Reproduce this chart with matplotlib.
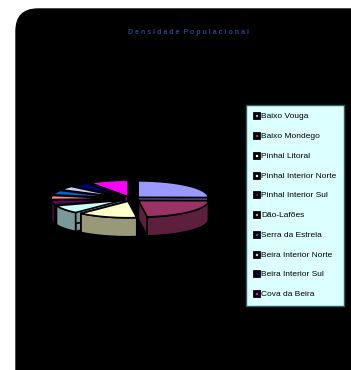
import numpy as np
import matplotlib
matplotlib.use("Agg")
import matplotlib.pyplot as plt
from matplotlib.patches import FancyBboxPatch, Polygon
from matplotlib.lines import Line2D
from matplotlib.colors import to_rgb

title = "Densidade Populacional"
regions = ["Baixo Vouga", "Baixo Mondego", "Pinhal Litoral", "Pinhal Interior Norte",
           "Pinhal Interior Sul", "Dão-Lafões", "Serra da Estrela",
           "Beira Interior Norte", "Beira Interior Sul", "Cova da Beira"]
values = [88, 80, 48, 28, 16, 14, 16, 14, 14, 32]
colors = ["#9999ff", "#993366", "#ffffcc", "#ccffff", "#660066",
          "#ff8080", "#0066cc", "#ccccff", "#000080", "#ff00ff"]

W, H = 351, 370


def darker(c, f=0.6):
    r, g, b = to_rgb(c)
    return (r * f, g * f, b * f)


def draw_pie3d(ax, vals, cols, cx, cy, a, b, depth, explode):
    frac = np.array(vals, dtype=float) / sum(vals)
    ends = 90 - 360 * np.cumsum(frac)
    starts = np.concatenate([[90], ends[:-1]])
    wedges = []
    for s, e, c in zip(starts, ends, cols):
        m = np.radians((s + e) / 2)
        ox = cx + explode * np.cos(m)
        oy = cy - explode * (b / a) * np.sin(m)
        t = np.radians(np.linspace(s, e, 60))
        xs = ox + a * np.cos(t)
        ys = oy - b * np.sin(t)
        wedges.append((np.sin(m), ox, oy, t, xs, ys, c))
    # back wedges first
    wedges.sort(key=lambda w: -w[0])
    for _, ox, oy, t, xs, ys, c in wedges:
        side = darker(c)
        # radial faces
        for k in (0, -1):
            face = [(ox, oy), (xs[k], ys[k]), (xs[k], ys[k] + depth), (ox, oy + depth)]
            ax.add_patch(Polygon(face, closed=True, fc=side, ec="black", lw=1.2))
        # outer curved side, front half only
        front = np.sin(t) < 0
        if front.any():
            fx, fy = xs[front], ys[front]
            pts = list(zip(fx, fy)) + list(zip(fx[::-1], fy[::-1] + depth))
            ax.add_patch(Polygon(pts, closed=True, fc=side, ec="black", lw=1.2))
        top = [(ox, oy)] + list(zip(xs, ys))
        ax.add_patch(Polygon(top, closed=True, fc=c, ec="black", lw=1.2))


fig = plt.figure(figsize=(W / 100, H / 100), dpi=100)
fig.patch.set_facecolor("white")
ax = fig.add_axes([0, 0, 1, 1])
ax.set_xlim(0, W)
ax.set_ylim(H, 0)
ax.axis("off")

# black chart area with rounded corner
ax.add_patch(FancyBboxPatch((16, 9), 400, 420, boxstyle="round,pad=0,rounding_size=22",
                            fc="black", ec="black"))

ax.text(189, 32, "  ".join(" ".join(w) for w in title.split()), ha="center", va="center",
        fontsize=5.0, fontweight="bold", color="#22488a", family="Liberation Sans")

draw_pie3d(ax, values, colors, cx=131, cy=199, a=70, b=16.5, depth=19, explode=10)

handles = [Line2D([], [], ls="none", marker="s", markersize=3.6, markerfacecolor=c,
                  markeredgecolor="black", markeredgewidth=2.0) for c in colors]
leg = fig.legend(handles, regions, loc="upper left", bbox_to_anchor=(246 / W, 1 - 105 / H),
                 borderaxespad=0, fancybox=False, frameon=True,
                 prop={"family": "Liberation Sans", "size": 6.0},
                 handlelength=0.6, handletextpad=0.3, labelspacing=1.43,
                 borderpad=0.9)
leg.get_frame().set_facecolor("#dcffff")
leg.get_frame().set_edgecolor("#2f5f5f")
leg.get_frame().set_linewidth(1.0)
leg.get_frame().set_alpha(1)

fig.savefig("out.png", dpi=100, facecolor="white")
